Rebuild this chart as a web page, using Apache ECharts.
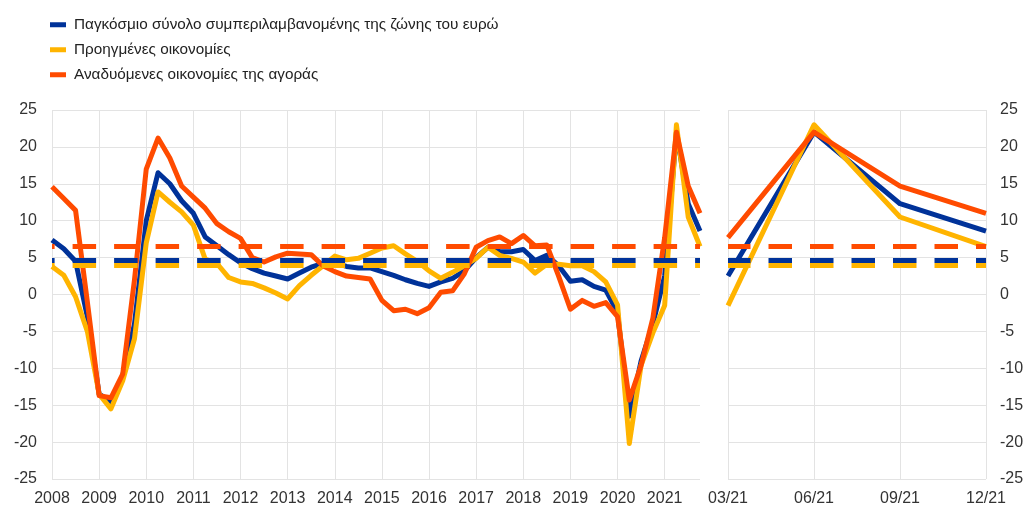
<!DOCTYPE html>
<html><head><meta charset="utf-8">
<script src="https://cdn.jsdelivr.net/npm/echarts@6/dist/echarts.min.js"></script>
<style>html,body{margin:0;padding:0;background:#fff}#c{width:1028px;height:524px}</style>
</head><body><div id="c"></div>
<script>
// ---- data ----
const years = [2008,2009,2010,2011,2012,2013,2014,2015,2016,2017,2018,2019,2020,2021];
const seriesNames = [
  'Παγκόσμιο σύνολο συμπεριλαμβανομένης της ζώνης του ευρώ',
  'Προηγμένες οικονομίες',
  'Αναδυόμενες οικονομίες της αγοράς'
];
const colors = ['#003299', '#FFB400', '#FF4B00'];
// quarterly values, 2008 Q1 .. 2021 Q4
const blueVals = [7.4,6.2,4.5,-3.0,-13.5,-14.5,-11.0,-4.0,
  10.0,16.5,15.0,12.7,11.0,7.8,6.6,5.4,
  4.3,3.5,2.9,2.5,2.1,2.9,3.7,4.2,
  4.3,3.8,3.6,3.6,3.1,2.6,2.0,1.5,
  1.1,1.7,2.2,3.2,5.0,6.4,5.8,5.8,
  6.1,4.6,5.3,3.9,1.8,2.0,1.1,0.6,
  -2.4,-16.5,-9.0,-4.0,2.5,22.0,12.3,8.6];
const yellowVals = [3.8,2.6,-0.3,-5.0,-13.5,-15.5,-11.7,-6.0,
  7.0,13.9,12.5,11.2,9.4,4.8,4.2,2.3,
  1.7,1.5,0.9,0.2,-0.6,1.2,2.6,3.9,
  5.2,4.7,4.9,5.6,6.3,6.6,5.5,4.5,
  3.2,2.2,3.0,3.9,4.9,6.4,5.3,4.9,
  4.4,2.9,4.1,4.1,3.9,3.9,3.1,1.7,
  -1.4,-20.2,-9.6,-5.2,-1.5,23.0,10.5,6.5];
const orangeVals = [14.6,13.0,11.4,-1.0,-13.7,-14.0,-10.8,2.0,
  17.0,21.2,18.5,14.7,13.2,11.7,9.6,8.5,
  7.6,5.0,4.4,5.1,5.6,5.5,5.4,3.9,
  3.1,2.5,2.3,2.1,-0.8,-2.2,-2.0,-2.6,
  -1.8,0.3,0.5,2.8,6.4,7.3,7.8,6.9,
  8.0,6.6,6.7,2.5,-2.0,-0.8,-1.6,-1.1,
  -3.0,-14.3,-9.6,-3.2,7.7,22.0,14.7,11.0];
// 2021 detail panel
const zoomCats = ['03/21','06/21','09/21','12/21'];
const blueZoom = [2.5,22.0,12.3,8.6];
const yellowZoom = [-1.5,23.0,10.5,6.5];
const orangeZoom = [7.7,22.0,14.7,11.0];
// long-term averages (dashed)
const avgVals = [4.7, 3.9, 6.5];
const yMin = -25, yMax = 25, yStep = 5;

// ---- build ----
const cats = [];
years.forEach(y => { for (let q = 1; q <= 4; q++) cats.push(y + 'Q' + q); });
const mainVals = [blueVals, yellowVals, orangeVals];
const zoomVals = [blueZoom, yellowZoom, orangeZoom];
const gridColor = '#e3e3e3';
const txt = '#333';

function yAx(gi, pos) {
  return {
    type: 'value', gridIndex: gi, position: pos, min: yMin, max: yMax, interval: yStep,
    axisLine: {show: false}, axisTick: {show: false},
    axisLabel: {fontSize: 16, color: txt, margin: pos === 'left' ? 15 : 14, fontFamily: 'Liberation Sans, Arial, sans-serif'},
    splitLine: {show: true, lineStyle: {color: gridColor, width: 1}}
  };
}
function avgLine(i, offset) {
  return {
    silent: true, symbol: 'none', animation: false,
    label: {show: false},
    lineStyle: {type: [23.5, 18], dashOffset: offset, cap: 'butt', width: 5, color: colors[i]},
    emphasis: {disabled: true},
    data: [{yAxis: avgVals[i]}]
  };
}
const series = [];
for (let i = 0; i < 3; i++) {
  series.push({
    name: seriesNames[i], type: 'line', xAxisIndex: 0, yAxisIndex: 0,
    data: mainVals[i], symbol: 'none', showSymbol: false,
    lineStyle: {width: 5, color: colors[i], join: 'round'}, itemStyle: {color: colors[i]},
    markLine: avgLine(i, 20.9)
  });
}
for (let i = 0; i < 3; i++) {
  series.push({
    name: seriesNames[i], type: 'line', xAxisIndex: 1, yAxisIndex: 1,
    data: zoomVals[i], symbol: 'none', showSymbol: false,
    lineStyle: {width: 5, color: colors[i], join: 'round'}, itemStyle: {color: colors[i]},
    markLine: avgLine(i, 1)
  });
}
const chart = echarts.init(document.getElementById('c'), null, {renderer: 'canvas'});
chart.setOption({
  animation: false,
  backgroundColor: '#fff',
  textStyle: {fontFamily: 'Liberation Sans, Arial, sans-serif'},
  legend: {
    orient: 'vertical', left: 45, top: 12, icon: 'rect',
    itemWidth: 16, itemHeight: 5, itemGap: 9.5,
    data: seriesNames,
    textStyle: {fontSize: 15.3, color: '#222', lineHeight: 15.5, padding: [0, 0, 0, 3]}
  },
  grid: [
    {left: 52, right: 328, top: 110, bottom: 45},
    {left: 728, right: 42, top: 110, bottom: 45}
  ],
  xAxis: [
    {
      type: 'category', gridIndex: 0, data: cats, boundaryGap: false,
      axisLine: {show: false}, axisTick: {show: false},
      axisLabel: {interval: 3, fontSize: 16, color: txt, margin: 12,
        formatter: v => v.slice(0, 4)},
      splitLine: {show: true, interval: 3, lineStyle: {color: gridColor, width: 1}}
    },
    {
      type: 'category', gridIndex: 1, data: zoomCats, boundaryGap: false,
      axisLine: {show: false}, axisTick: {show: false},
      axisLabel: {interval: 0, fontSize: 16, color: txt, margin: 12},
      splitLine: {show: true, interval: 0, lineStyle: {color: gridColor, width: 1}}
    }
  ],
  yAxis: [yAx(0, 'left'), yAx(1, 'right')],
  series: series
});
</script></body></html>
